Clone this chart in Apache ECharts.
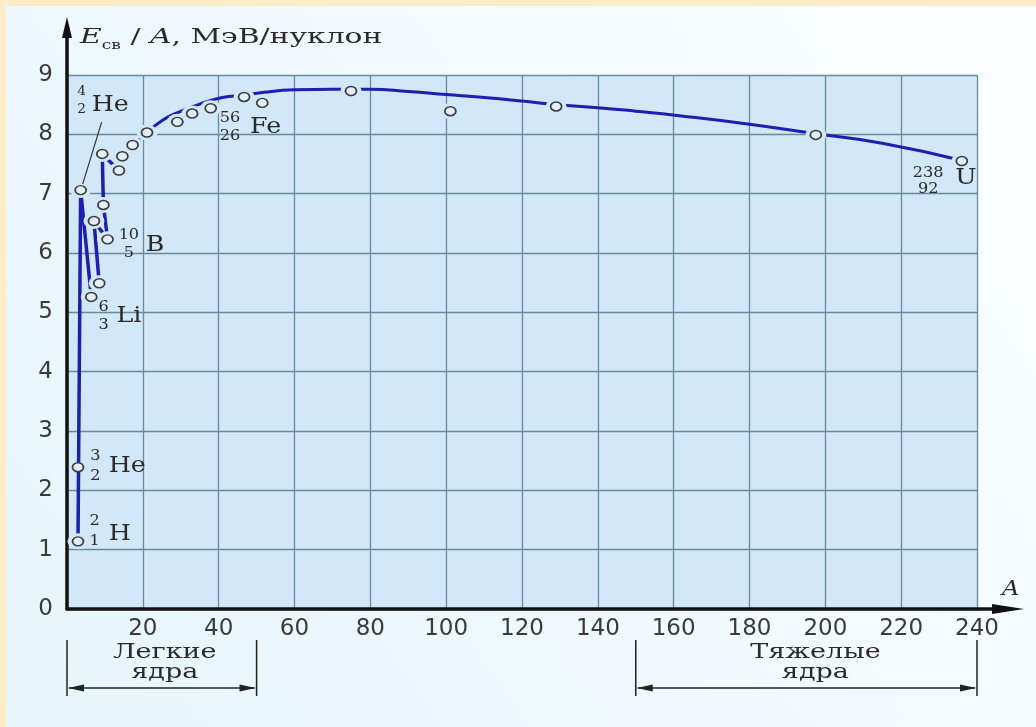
<!DOCTYPE html>
<html>
<head>
<meta charset="utf-8">
<script src="https://cdn.jsdelivr.net/npm/echarts@6/dist/echarts.min.js"></script>
<style>
  html, body { margin: 0; padding: 0; background: #fdecc8; }
  #chart { width: 1036px; height: 727px; }
</style>
</head>
<body>
<div id="chart"></div>
<script>
// Binding energy per nucleon E_св/A (MeV) against mass number A.

// Measured nuclei (open circles)
const massNumbers = [2.9, 2.9, 3.6, 6.4, 8.5, 7.1, 10.7, 9.6, 9.3, 13.7, 14.6, 17.3, 21.1,
  29.1, 33.0, 37.9, 46.7, 51.5, 74.9, 101.1, 129.0, 197.5, 236.0];
const bindingPerNucleon = [1.14, 2.39, 7.06, 5.26, 5.49, 6.54, 6.23, 6.81, 7.67, 7.39, 7.63, 7.82, 8.03,
  8.21, 8.35, 8.44, 8.63, 8.53, 8.73, 8.39, 8.47, 7.99, 7.55];

// Light nuclei joined point to point (indices into the arrays above)
const lightChainThick = [0, 2, 3, 4, 5, 6, 7, 8, 9];
const lightChainThin = [9, 10, 11, 12];

// Smooth trend for medium and heavy nuclei
const curveMass = [21.1, 25, 29, 35, 41, 46.7, 52, 60, 70, 80, 90, 100, 110, 120, 129, 140, 150, 162, 180, 197.5, 215, 236];
const curveBinding = [8.03, 8.23, 8.36, 8.51, 8.62, 8.66, 8.71, 8.75, 8.76, 8.76, 8.72, 8.67, 8.62, 8.56, 8.50, 8.45, 8.39, 8.31, 8.17, 8.01, 7.85, 7.56];

// Axis ranges
const xRange = [0, 240, 20];
const yRange = [0, 9, 1];

// Named nuclides: point index, mass number, charge number, symbol
const nuclides = [
  { key: 'H2', point: 0, mass: '2', charge: '1', symbol: 'H' },
  { key: 'He3', point: 1, mass: '3', charge: '2', symbol: 'He' },
  { key: 'He4', point: 2, mass: '4', charge: '2', symbol: 'He' },
  { key: 'Li6', point: 3, mass: '6', charge: '3', symbol: 'Li' },
  { key: 'B10', point: 6, mass: '10', charge: '5', symbol: 'B' },
  { key: 'Fe56', point: 16, mass: '56', charge: '26', symbol: 'Fe' },
  { key: 'U238', point: 22, mass: '238', charge: '92', symbol: 'U' }
];

// Nucleus groups marked under the axis
const groupNames = [['Легкие', 'ядра'], ['Тяжелые', 'ядра']];
const groupRanges = [[0, 50], [150, 240]];

// ---- layout and style ----
const PLOT_BG = '#d2e7f7';
const GRID_COLOR = '#6a8a9e';
const LINE_BLUE = '#1c1fb0';
const INK = '#2a2a2a';
const SERIF = 'DejaVu Serif';

// pixel offsets of the nuclide captions relative to their point
const labelLayout = {
  H2:   { num: [16.7, -10], gap: 10, sym: [30.7, -6.7], numSize: 14 },
  He3:  { num: [17.4, -1], gap: 10, sym: [30.7, -0.7], numSize: 14 },
  He4:  { num: [1, -89], gap: 9, sym: [11, -85], numSize: 12, lead: [[2, -6], [21, -68]] },
  Li6:  { num: [12.3, 19.3], gap: 9, sym: [25.3, 19.3], numSize: 14 },
  B10:  { num: [21.3, 4.7], gap: 9, sym: [38.3, 5.7], numSize: 14 },
  Fe56: { num: [-14, 30.3], gap: 9, sym: [6, 30.3], numSize: 14 },
  U238: { num: [-33.7, 20.7], gap: 8, sym: [-6.7, 17], numSize: 14 }
};
const groupTextShift = [3, 9];

const points = massNumbers.map((a, i) => [a, bindingPerNucleon[i]]);
const pick = idx => idx.map(i => points[i]);
const curve = curveMass.map((a, i) => [a, curveBinding[i]]);
const maskPoints = points.filter((p, i) => i !== 1);

const chart = echarts.init(document.getElementById('chart'), null, { renderer: 'canvas' });

const tickLabel = { color: '#3a3a3a', fontFamily: 'DejaVu Sans', fontSize: 23 };

chart.setOption({
  backgroundColor: 'transparent',
  animation: false,
  grid: { left: 67, right: 59, top: 75, bottom: 118, show: true, backgroundColor: PLOT_BG, borderWidth: 0 },
  xAxis: {
    type: 'value', min: xRange[0], max: xRange[1], interval: xRange[2],
    axisLine: { show: true, lineStyle: { color: '#111', width: 3.5 } },
    axisTick: { show: false },
    axisLabel: Object.assign({ showMinLabel: false, margin: 9 }, tickLabel),
    splitLine: { show: true, lineStyle: { color: GRID_COLOR, width: 1.3 } }
  },
  yAxis: {
    type: 'value', min: yRange[0], max: yRange[1], interval: yRange[2],
    axisLine: { show: true, onZero: false, lineStyle: { color: '#111', width: 3.5 } },
    axisTick: { show: false },
    axisLabel: Object.assign({ margin: 14 }, tickLabel),
    splitLine: { show: true, lineStyle: { color: GRID_COLOR, width: 1.3 } }
  },
  series: [
    { type: 'line', data: pick(lightChainThick), symbol: 'none', z: 2,
      lineStyle: { color: LINE_BLUE, width: 3.5 } },
    { type: 'line', data: pick(lightChainThin), symbol: 'none', z: 2,
      lineStyle: { color: LINE_BLUE, width: 2 } },
    { type: 'line', data: curve, symbol: 'none', smooth: true, z: 2,
      lineStyle: { color: LINE_BLUE, width: 3 } },
    // clear a small gap around each circle
    { type: 'scatter', data: maskPoints, symbol: 'circle', symbolSize: [21, 16], z: 3,
      itemStyle: { color: PLOT_BG, opacity: 1 }, silent: true },
    { type: 'scatter', data: points, symbol: 'circle', symbolSize: [11, 9], z: 4,
      itemStyle: { color: '#e2effa', borderColor: '#3c3c3c', borderWidth: 1.6, opacity: 1 } }
  ]
});

const px = (a, e) => chart.convertToPixel({ gridIndex: 0 }, [a, e]);

function buildGraphics() {
  const g = [];
  const W = 1036, H = 727;
  // page backdrop inside the cream frame
  g.push({
    type: 'rect', z: -100, shape: { x: 6, y: 6, width: W - 6, height: H - 6 },
    style: { fill: new echarts.graphic.LinearGradient(0, 1, 1, 0, [
      { offset: 0, color: '#e6f5fb' }, { offset: 1, color: '#fbfeff' }]) }
  });

  const o = px(0, 0);
  const top = px(0, yRange[1]);
  const right = px(xRange[1], 0);
  // axis extensions with arrow heads
  g.push({ type: 'line', z: 50, shape: { x1: o[0], y1: top[1], x2: o[0], y2: 30 },
    style: { stroke: '#111', lineWidth: 3.5 } });
  g.push({ type: 'polygon', z: 50, shape: { points: [[o[0], 17], [o[0] - 5, 38], [o[0] + 5, 38]] },
    style: { fill: '#111' } });
  g.push({ type: 'line', z: 50, shape: { x1: right[0], y1: o[1], x2: 1000, y2: o[1] },
    style: { stroke: '#111', lineWidth: 3.5 } });
  g.push({ type: 'polygon', z: 50, shape: { points: [[1024, o[1]], [992, o[1] - 5], [992, o[1] + 5]] },
    style: { fill: '#111' } });

  // axis titles
  g.push({
    type: 'text', z: 60, x: 80, y: 38, scaleX: 1.42,
    style: {
      text: '{e|E}{s|св}{t| / }{e|A}{t|, МэВ/нуклон}',
      verticalAlign: 'middle', fill: INK,
      rich: {
        e: { fontFamily: SERIF, fontStyle: 'italic', fontSize: 21, lineHeight: 28, fill: INK },
        s: { fontFamily: SERIF, fontSize: 12, lineHeight: 28, verticalAlign: 'bottom', fill: INK },
        t: { fontFamily: SERIF, fontSize: 21, lineHeight: 28, fill: INK }
      }
    }
  });
  g.push({ type: 'text', z: 60, x: 1002, y: 590, scaleX: 1.15,
    style: { text: 'A', fontFamily: SERIF, fontStyle: 'italic', fontSize: 21, fill: INK, verticalAlign: 'middle' } });

  // nuclide captions
  nuclides.forEach(n => {
    const L = labelLayout[n.key];
    const p = px(massNumbers[n.point], bindingPerNucleon[n.point]);
    const nx = p[0] + L.num[0], ny = p[1] + L.num[1];
    g.push({ type: 'text', z: 60, x: nx, y: ny - L.gap, scaleX: 1.15,
      style: { text: n.mass, fontFamily: SERIF, fontSize: L.numSize, fill: INK, align: 'center', verticalAlign: 'middle' } });
    g.push({ type: 'text', z: 60, x: nx, y: ny + L.gap, scaleX: 1.15,
      style: { text: n.charge, fontFamily: SERIF, fontSize: L.numSize, fill: INK, align: 'center', verticalAlign: 'middle' } });
    g.push({ type: 'text', z: 60, x: p[0] + L.sym[0], y: p[1] + L.sym[1], scaleX: 1.15,
      style: { text: n.symbol, fontFamily: SERIF, fontSize: 22, fill: INK, align: 'left', verticalAlign: 'middle' } });
    if (L.lead) {
      g.push({ type: 'line', z: 60, shape: {
        x1: p[0] + L.lead[0][0], y1: p[1] + L.lead[0][1], x2: p[0] + L.lead[1][0], y2: p[1] + L.lead[1][1] },
        style: { stroke: '#333', lineWidth: 1.2 } });
    }
  });

  // group brackets under the axis
  groupRanges.forEach((r, i) => {
    const xa = px(r[0], 0)[0], xb = px(r[1], 0)[0], y0 = o[1];
    const ya = y0 + 79;
    const ink = { stroke: '#222', lineWidth: 1.5 };
    g.push({ type: 'line', z: 60, shape: { x1: xa, y1: y0 + 31, x2: xa, y2: y0 + 87 }, style: ink });
    g.push({ type: 'line', z: 60, shape: { x1: xb, y1: y0 + 31, x2: xb, y2: y0 + 87 }, style: ink });
    g.push({ type: 'line', z: 60, shape: { x1: xa + 2, y1: ya, x2: xb - 2, y2: ya }, style: ink });
    g.push({ type: 'polygon', z: 60, shape: { points: [[xa + 1, ya], [xa + 17, ya - 3.5], [xa + 17, ya + 3.5]] }, style: { fill: '#222' } });
    g.push({ type: 'polygon', z: 60, shape: { points: [[xb - 1, ya], [xb - 17, ya - 3.5], [xb - 17, ya + 3.5]] }, style: { fill: '#222' } });
    const xm = (xa + xb) / 2 + groupTextShift[i];
    g.push({ type: 'text', z: 60, x: xm, y: y0 + 44, scaleX: 1.35,
      style: { text: groupNames[i][0], fontFamily: SERIF, fontSize: 20, fill: INK, align: 'center', verticalAlign: 'middle' } });
    g.push({ type: 'text', z: 60, x: xm, y: y0 + 64, scaleX: 1.35,
      style: { text: groupNames[i][1], fontFamily: SERIF, fontSize: 20, fill: INK, align: 'center', verticalAlign: 'middle' } });
  });
  return g;
}

chart.setOption({ graphic: buildGraphics() });
</script>
</body>
</html>
